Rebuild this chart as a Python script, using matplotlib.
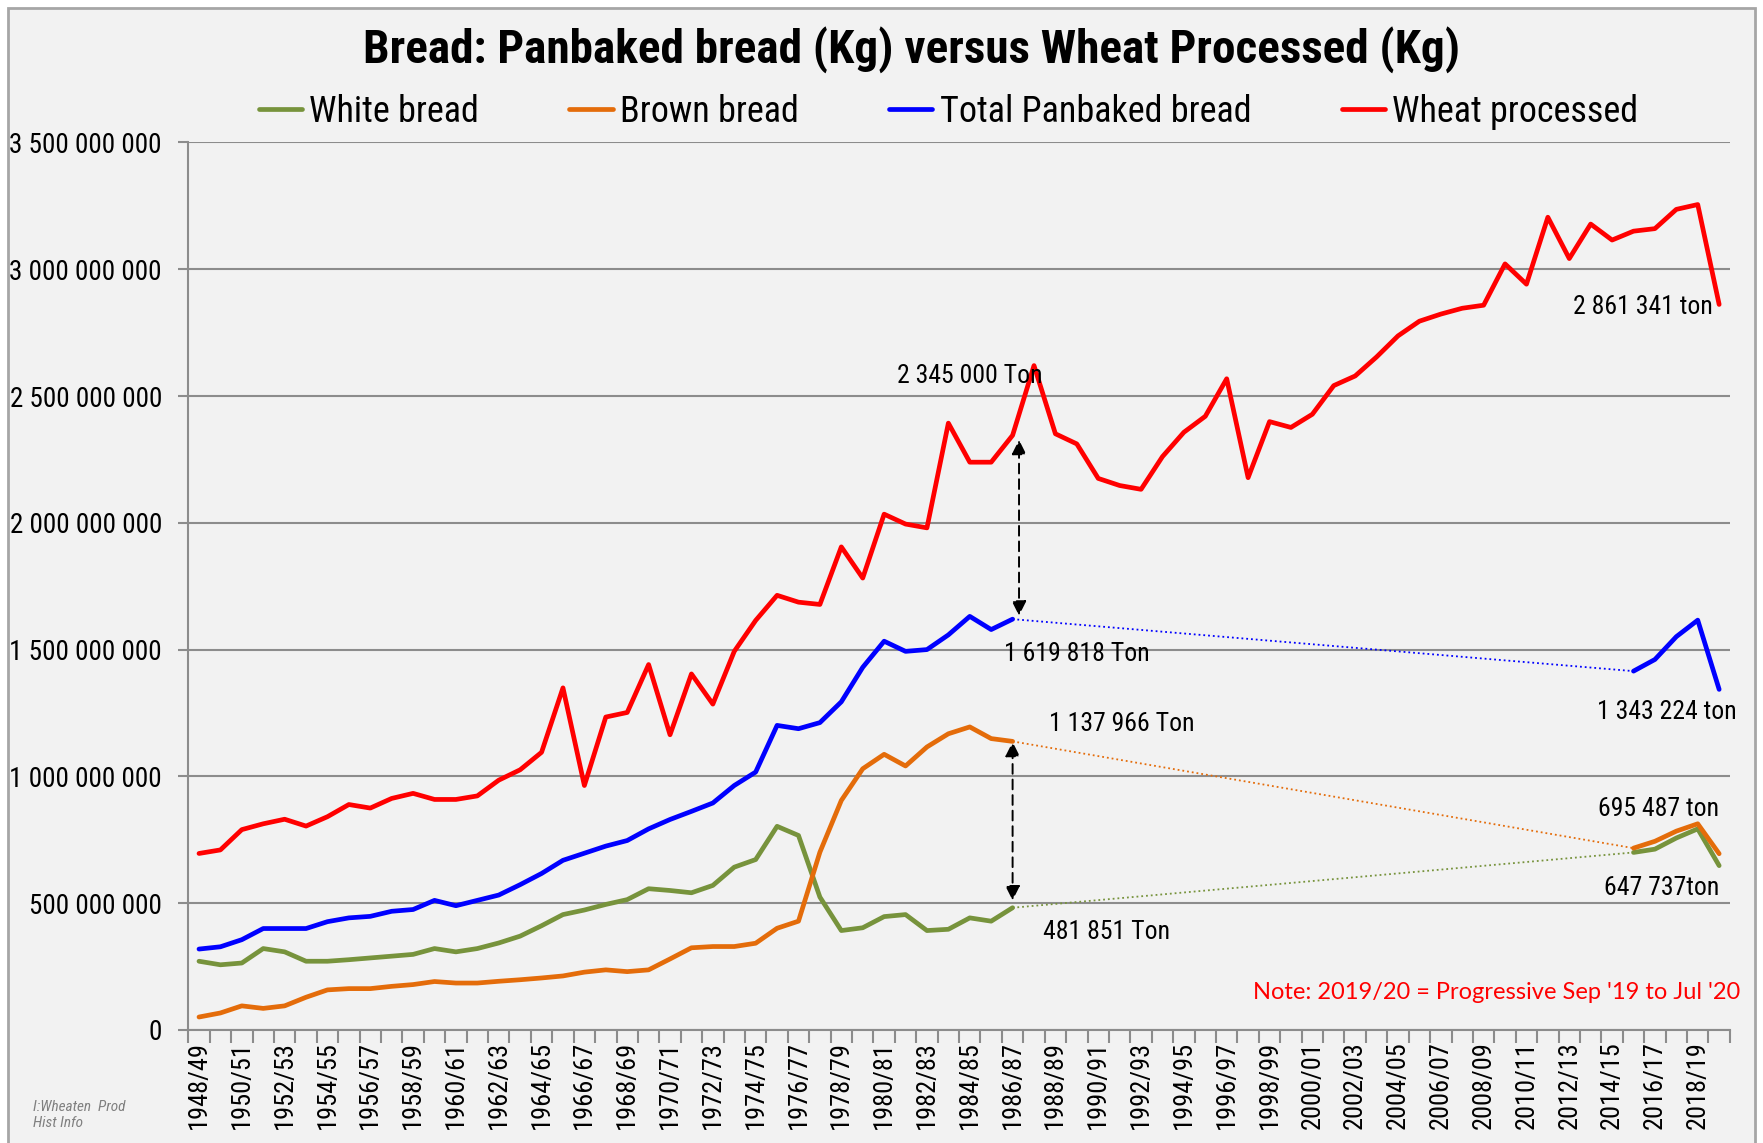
import matplotlib
matplotlib.use("Agg")
import matplotlib.pyplot as plt
import numpy as np
from matplotlib import font_manager
from matplotlib.patches import Rectangle
from matplotlib.ticker import FuncFormatter

# the original uses a narrow sans; take one if the machine has it
available = sorted({(f.name, f.stretch) for f in font_manager.fontManager.ttflist})
narrow = None
for cand in ['Liberation Sans Narrow', 'Arial Narrow', 'Roboto Condensed', 'Open Sans Condensed',
             'Noto Sans Condensed', 'DejaVu Sans Condensed']:
    if any(n == cand for n, s in available):
        narrow = cand
        break
if narrow:
    plt.rcParams['font.family'] = [narrow, 'DejaVu Sans']
    k = 1.0
else:
    plt.rcParams['font.family'] = ['Liberation Sans', 'DejaVu Sans']
    k = 0.84

# seasons 1948/49 .. 2019/20
seasons = [f"{y}/{(y + 1) % 100:02d}" for y in range(1948, 2020)]

# million kg
wheat = [696, 710, 790, 813, 831, 804, 841, 889, 875, 913,
         933, 909, 909, 923, 985, 1026, 1095, 1349, 964, 1234,
         1252, 1441, 1164, 1404, 1285, 1493, 1615, 1714, 1687, 1678,
         1905, 1782, 2034, 1995, 1980, 2393, 2239, 2239, 2345, 2620,
         2351, 2311, 2175, 2147, 2132, 2261, 2357, 2420, 2568, 2178,
         2399, 2376, 2428, 2541, 2579, 2654, 2737, 2795, 2823, 2846,
         2858, 3021, 2941, 3205, 3042, 3178, 3115, 3150, 3160, 3236,
         3255, 2861]

# bread series: 1948/49 - 1986/87, then 2015/16 - 2019/20
white_early = [271, 257, 264, 321, 308, 271, 271, 277, 284, 291,
               298, 321, 308, 321, 343, 370, 411, 455, 473, 495,
               514, 557, 550, 541, 570, 642, 672, 803, 767, 524,
               392, 403, 447, 455, 392, 397, 442, 429, 482]
white_late = [700, 713, 757, 793, 648]

brown_early = [51, 67, 95, 85, 95, 129, 158, 163, 163, 172,
               179, 191, 185, 185, 192, 198, 205, 213, 228, 237,
               230, 237, 280, 324, 329, 329, 342, 401, 429, 701,
               905, 1030, 1087, 1041, 1116, 1168, 1195, 1149, 1138]
brown_late = [717, 744, 784, 813, 695]

total_early = [319, 328, 356, 400, 400, 400, 427, 442, 448, 468,
               475, 511, 490, 511, 532, 573, 617, 669, 697, 725,
               747, 793, 830, 862, 895, 964, 1017, 1201, 1188, 1212,
               1294, 1430, 1533, 1493, 1500, 1558, 1631, 1579, 1620]
total_late = [1415, 1461, 1551, 1616, 1343]

late_start = seasons.index('2015/16')

GREEN = '#77933C'
ORANGE = '#E46C0A'
BLUE = '#0000FF'
RED = '#FF0000'
GRID = '#8C8C8C'


def plot_split_series(ax, early, late, color, label):
    x_early = np.arange(len(early))
    x_late = np.arange(late_start, late_start + len(late))
    y_early = np.array(early) * 1e6
    y_late = np.array(late) * 1e6
    ax.plot(x_early, y_early, color=color, lw=3.4, label=label, solid_capstyle='round', zorder=4)
    ax.plot(x_late, y_late, color=color, lw=3.4, solid_capstyle='round', zorder=4)
    # dotted link across the missing years
    ax.plot([x_early[-1], x_late[0]], [y_early[-1], y_late[0]], color=color, lw=1.3, ls=':', zorder=3)


def dashed_arrow(ax, x, y_from, y_to, style):
    ax.annotate('', xy=(x, y_to), xytext=(x, y_from),
                arrowprops=dict(arrowstyle=style, color='black', lw=1.4, ls=(0, (5, 3)),
                                mutation_scale=22, shrinkA=0, shrinkB=0), zorder=6)


fig = plt.figure(figsize=(17.63, 11.43), dpi=100)
fig.patch.set_facecolor('white')
fig.add_artist(Rectangle((8 / 1763, -0.01), (1755 - 8) / 1763, 1.003, transform=fig.transFigure,
                         facecolor='#F2F2F2', edgecolor='#A6A6A6', lw=2, zorder=0))

ax = fig.add_axes([0.1068, 0.0989, 0.8744, 0.7765])
ax.set_facecolor('none')

plot_split_series(ax, white_early, white_late, GREEN, 'White bread')
plot_split_series(ax, brown_early, brown_late, ORANGE, 'Brown bread')
plot_split_series(ax, total_early, total_late, BLUE, 'Total Panbaked bread')
ax.plot(np.arange(len(wheat)), np.array(wheat) * 1e6, color=RED, lw=3.4, label='Wheat processed',
        solid_capstyle='round', zorder=4)

ax.set_xlim(-0.5, len(seasons) - 0.5)
ax.set_ylim(0, 3.5e9)
ax.set_yticks(np.arange(0, 3.51e9, 5e8))
ax.yaxis.set_major_formatter(FuncFormatter(lambda v, p: f"{int(round(v)):,}".replace(',', ' ')))
ax.yaxis.grid(True, color=GRID, lw=1.5)
ax.set_axisbelow(True)

ax.set_xticks(np.arange(-0.5, len(seasons), 1))
ax.set_xticklabels([])
ax.set_xticks(np.arange(0, len(seasons), 2), minor=True)
ax.set_xticklabels(seasons[::2], minor=True, rotation=90, fontsize=19 * k)
ax.tick_params(axis='x', which='major', length=9, width=1.5, color=GRID, direction='out')
ax.tick_params(axis='x', which='minor', length=0, pad=8)
ax.tick_params(axis='y', length=7, width=1.5, color=GRID, labelsize=19.5 * k, pad=12)

for side in ['top', 'right']:
    ax.spines[side].set_visible(False)
for side in ['left', 'bottom']:
    ax.spines[side].set_color(GRID)
    ax.spines[side].set_linewidth(1.5)

fig.text(0.517, 0.957, 'Bread: Panbaked bread (Kg) versus Wheat Processed (Kg)',
         ha='center', va='center', fontsize=34 * k, fontweight='bold')

fig.legend(loc='center', bbox_to_anchor=(0.538, 0.902), ncol=4, frameon=False, fontsize=26 * k,
           handlelength=1.2, handletextpad=0.2, columnspacing=2.5)

# annotations
txt = dict(fontsize=18.5 * k, zorder=7)
ax.text(32.6, 2.577e9, '2 345 000 Ton', ha='left', va='center', **txt)
ax.text(37.6, 1.484e9, '1 619 818 Ton', ha='left', va='center', **txt)
ax.text(39.7, 1.205e9, '1 137 966 Ton', ha='left', va='center', **txt)
ax.text(39.4, 0.385e9, '481 851 Ton', ha='left', va='center', **txt)
ax.text(70.7, 2.852e9, '2 861 341 ton', ha='right', va='center', **txt)
ax.text(71.8, 1.253e9, '1 343 224 ton', ha='right', va='center', **txt)
ax.text(71.0, 0.872e9, '695 487 ton', ha='right', va='center', **txt)
ax.text(71.0, 0.558e9, '647 737ton', ha='right', va='center', **txt)

dashed_arrow(ax, 38.3, 1.634e9, 2.327e9, '<|-|>')
dashed_arrow(ax, 38.0, 0.511e9, 1.136e9, '<|-|>')
dashed_arrow(ax, 71.7, 1.355e9, 2.850e9, '<|-|>')
dashed_arrow(ax, 71.7, 0.971e9, 0.731e9, '-|>')
dashed_arrow(ax, 71.7, 0.384e9, 0.624e9, '-|>')

ax.text(72.0, 0.146e9, "Note: 2019/20 = Progressive Sep '19 to Jul '20", ha='right', va='center',
        color=RED, fontsize=17, family=['Lato', 'DejaVu Sans'], zorder=7)

fig.text(33 / 1763, 1 - 1115 / 1143, 'I:Wheaten  Prod\nHist Info', ha='left', va='center',
         fontsize=11 * k, style='italic', color='#808080', linespacing=1.2)

fig.savefig('out.png', dpi=100, facecolor=fig.get_facecolor())
